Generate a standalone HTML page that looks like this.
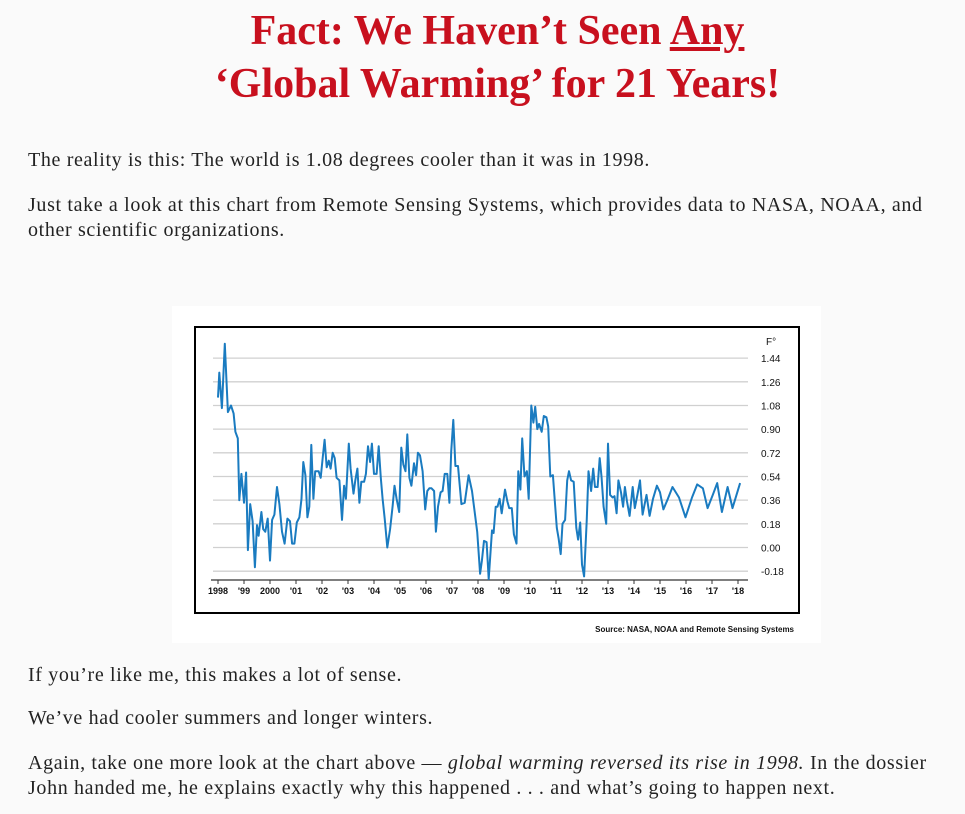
<!DOCTYPE html>
<html><head><meta charset="utf-8">
<style>
html,body{margin:0;padding:0;background:#fafafa;}
body{width:965px;height:814px;position:relative;overflow:hidden;font-family:"Liberation Serif",serif;color:#222;}
.t{position:absolute;left:0;width:995px;text-align:center;color:#c8101e;font-weight:bold;font-size:42px;line-height:53px;}
.p{position:absolute;left:28px;font-size:20px;letter-spacing:0.65px;line-height:25px;white-space:nowrap;}
#panel{position:absolute;left:172px;top:306px;width:649px;height:337px;background:#fff;}
</style></head><body>
<div class="t" style="top:5px">Fact: We Haven’t Seen <u>Any</u><br>‘Global Warming’ for 21 Years!</div>
<div class="p" style="top:148px">The reality is this: The world is 1.08 degrees cooler than it was in 1998.</div>
<div class="p" style="top:193px">Just take a look at this chart from Remote Sensing Systems, which provides data to NASA, NOAA, and<br>other scientific organizations.</div>
<svg id="panel" viewBox="172 306 649 337" xmlns="http://www.w3.org/2000/svg"></svg>
<div class="p" style="top:663px">If you’re like me, this makes a lot of sense.</div>
<div class="p" style="top:706px">We’ve had cooler summers and longer winters.</div>
<div class="p" style="top:751px">Again, take one more look at the chart above — <i>global warming reversed its rise in 1998.</i> In the dossier<br>John handed me, he explains exactly why this happened . . . and what’s going to happen next.</div>
<script>
const years=[1998.0,1998.05,1998.15,1998.26,1998.38,1998.5,1998.6,1998.67,1998.76,1998.82,1998.9,1999.0,1999.08,1999.15,1999.24,1999.33,1999.42,1999.5,1999.56,1999.67,1999.74,1999.82,1999.91,2000.0,2000.08,2000.17,2000.27,2000.36,2000.46,2000.56,2000.67,2000.77,2000.85,2000.94,2001.03,2001.13,2001.21,2001.28,2001.36,2001.44,2001.51,2001.59,2001.67,2001.74,2001.87,2001.95,2002.03,2002.1,2002.18,2002.26,2002.33,2002.41,2002.49,2002.56,2002.67,2002.77,2002.85,2002.92,2003.03,2003.1,2003.21,2003.28,2003.36,2003.44,2003.51,2003.62,2003.69,2003.77,2003.85,2003.92,2004.0,2004.1,2004.18,2004.26,2004.33,2004.41,2004.51,2004.62,2004.72,2004.79,2004.87,2004.97,2005.05,2005.13,2005.21,2005.28,2005.36,2005.44,2005.54,2005.62,2005.69,2005.77,2005.87,2005.97,2006.05,2006.13,2006.21,2006.31,2006.38,2006.46,2006.56,2006.64,2006.72,2006.82,2006.9,2006.97,2007.05,2007.13,2007.23,2007.36,2007.49,2007.64,2007.77,2007.97,2008.08,2008.15,2008.23,2008.33,2008.41,2008.54,2008.6,2008.68,2008.75,2008.83,2008.91,2009.04,2009.13,2009.2,2009.3,2009.38,2009.48,2009.55,2009.63,2009.7,2009.79,2009.88,2009.95,2010.05,2010.13,2010.2,2010.28,2010.35,2010.45,2010.53,2010.63,2010.7,2010.78,2010.88,2011.03,2011.1,2011.18,2011.25,2011.35,2011.43,2011.5,2011.58,2011.68,2011.78,2011.85,2011.93,2012.0,2012.08,2012.18,2012.25,2012.35,2012.43,2012.5,2012.6,2012.68,2012.75,2012.83,2012.93,2013.0,2013.08,2013.18,2013.25,2013.33,2013.4,2013.5,2013.58,2013.65,2013.73,2013.83,2013.95,2014.03,2014.13,2014.23,2014.33,2014.4,2014.48,2014.6,2014.73,2014.88,2015.0,2015.13,2015.28,2015.48,2015.73,2015.98,2016.23,2016.43,2016.65,2016.83,2017.03,2017.2,2017.38,2017.6,2017.79,2018.08];
const temps=[1.14,1.33,1.06,1.55,1.03,1.08,1.02,0.88,0.83,0.36,0.56,0.34,0.57,-0.02,0.33,0.20,-0.15,0.17,0.09,0.27,0.14,0.12,0.22,-0.10,0.21,0.25,0.46,0.33,0.12,0.03,0.22,0.20,0.03,0.03,0.19,0.23,0.37,0.65,0.55,0.23,0.31,0.78,0.37,0.58,0.58,0.53,0.69,0.82,0.61,0.66,0.60,0.72,0.68,0.53,0.51,0.21,0.47,0.37,0.79,0.60,0.41,0.51,0.60,0.34,0.50,0.50,0.56,0.77,0.65,0.79,0.56,0.56,0.77,0.53,0.37,0.22,0.00,0.14,0.32,0.47,0.37,0.27,0.76,0.63,0.58,0.86,0.53,0.47,0.64,0.55,0.72,0.70,0.58,0.29,0.43,0.45,0.45,0.43,0.12,0.31,0.42,0.43,0.56,0.56,0.34,0.73,0.97,0.62,0.62,0.33,0.34,0.55,0.43,0.12,-0.20,-0.10,0.05,0.04,-0.24,0.13,0.11,0.31,0.31,0.37,0.26,0.44,0.35,0.30,0.30,0.10,0.03,0.58,0.44,0.83,0.54,0.58,0.37,1.08,0.95,1.07,0.90,0.94,0.88,1.00,0.99,0.92,0.54,0.55,0.15,0.07,-0.05,0.18,0.21,0.51,0.58,0.51,0.50,0.15,0.06,0.19,-0.13,-0.22,0.20,0.58,0.43,0.60,0.46,0.46,0.68,0.54,0.31,0.18,0.79,0.40,0.38,0.39,0.26,0.51,0.42,0.31,0.46,0.35,0.24,0.46,0.30,0.40,0.51,0.25,0.32,0.40,0.24,0.37,0.47,0.42,0.29,0.36,0.46,0.38,0.23,0.38,0.48,0.45,0.30,0.40,0.49,0.27,0.46,0.30,0.49];
const yTicks=[1.44,1.26,1.08,0.90,0.72,0.54,0.36,0.18,0.00,-0.18];
const yTickLabels=["1.44","1.26","1.08","0.90","0.72","0.54","0.36","0.18","0.00","-0.18"];
const xTicks=[1998,1999,2000,2001,2002,2003,2004,2005,2006,2007,2008,2009,2010,2011,2012,2013,2014,2015,2016,2017,2018];
const xTickLabels=["1998","'99","2000","'01","'02","'03","'04","'05","'06","'07","'08","'09","'10","'11","'12","'13","'14","'15","'16","'17","'18"];

const NS="http://www.w3.org/2000/svg";
const svg=document.getElementById('panel');
const X=v=>218+(v-1998)*26;
const Y=v=>547.5-v/0.18*23.67;
function mk(tag,attrs,parent){const e=document.createElementNS(NS,tag);for(const k in attrs)e.setAttribute(k,attrs[k]);(parent||svg).appendChild(e);return e;}

const frame=mk('rect',{x:195,y:327,width:604,height:286,fill:'#fff',stroke:'#000','stroke-width':2});



yTicks.forEach((v,i)=>{
  const g=mk('line',{x1:213,x2:748,y1:Y(v),y2:Y(v),stroke:'#d0d0d0','stroke-width':1.3});
  
  
  const t=mk('text',{x:761,y:Y(v)+4,'font-size':10,'font-family':'Liberation Sans, sans-serif',fill:'#111'});
  t.textContent=yTickLabels[i];
  
  
});
const unit=mk('text',{x:766,y:345,'font-size':10,'font-family':'Liberation Sans, sans-serif',fill:'#111'});
unit.textContent='F°';



const ax=mk('line',{x1:211,x2:748,y1:580,y2:580,stroke:'#333','stroke-width':1.3});


xTicks.forEach((v,i)=>{
  const tk=mk('line',{x1:X(v),x2:X(v),y1:580,y2:584,stroke:'#333','stroke-width':1});
  
  
  const t=mk('text',{x:X(v),y:594,'font-size':9,'font-weight':'bold','text-anchor':'middle','font-family':'Liberation Sans, sans-serif',fill:'#111'});
  t.textContent=xTickLabels[i];
  
  
});

const pts=years.map((y,i)=>X(y).toFixed(1)+','+Y(temps[i]).toFixed(1)).join(' ');
const line=mk('polyline',{points:pts,fill:'none',stroke:'#1a7bc0','stroke-width':2,'stroke-linejoin':'round'});



const src=mk('text',{x:794,y:632,'font-size':8,'font-weight':'bold','text-anchor':'end','font-family':'Liberation Sans, sans-serif',fill:'#111'});
src.textContent='Source: NASA, NOAA and Remote Sensing Systems';


</script>
</body></html>
